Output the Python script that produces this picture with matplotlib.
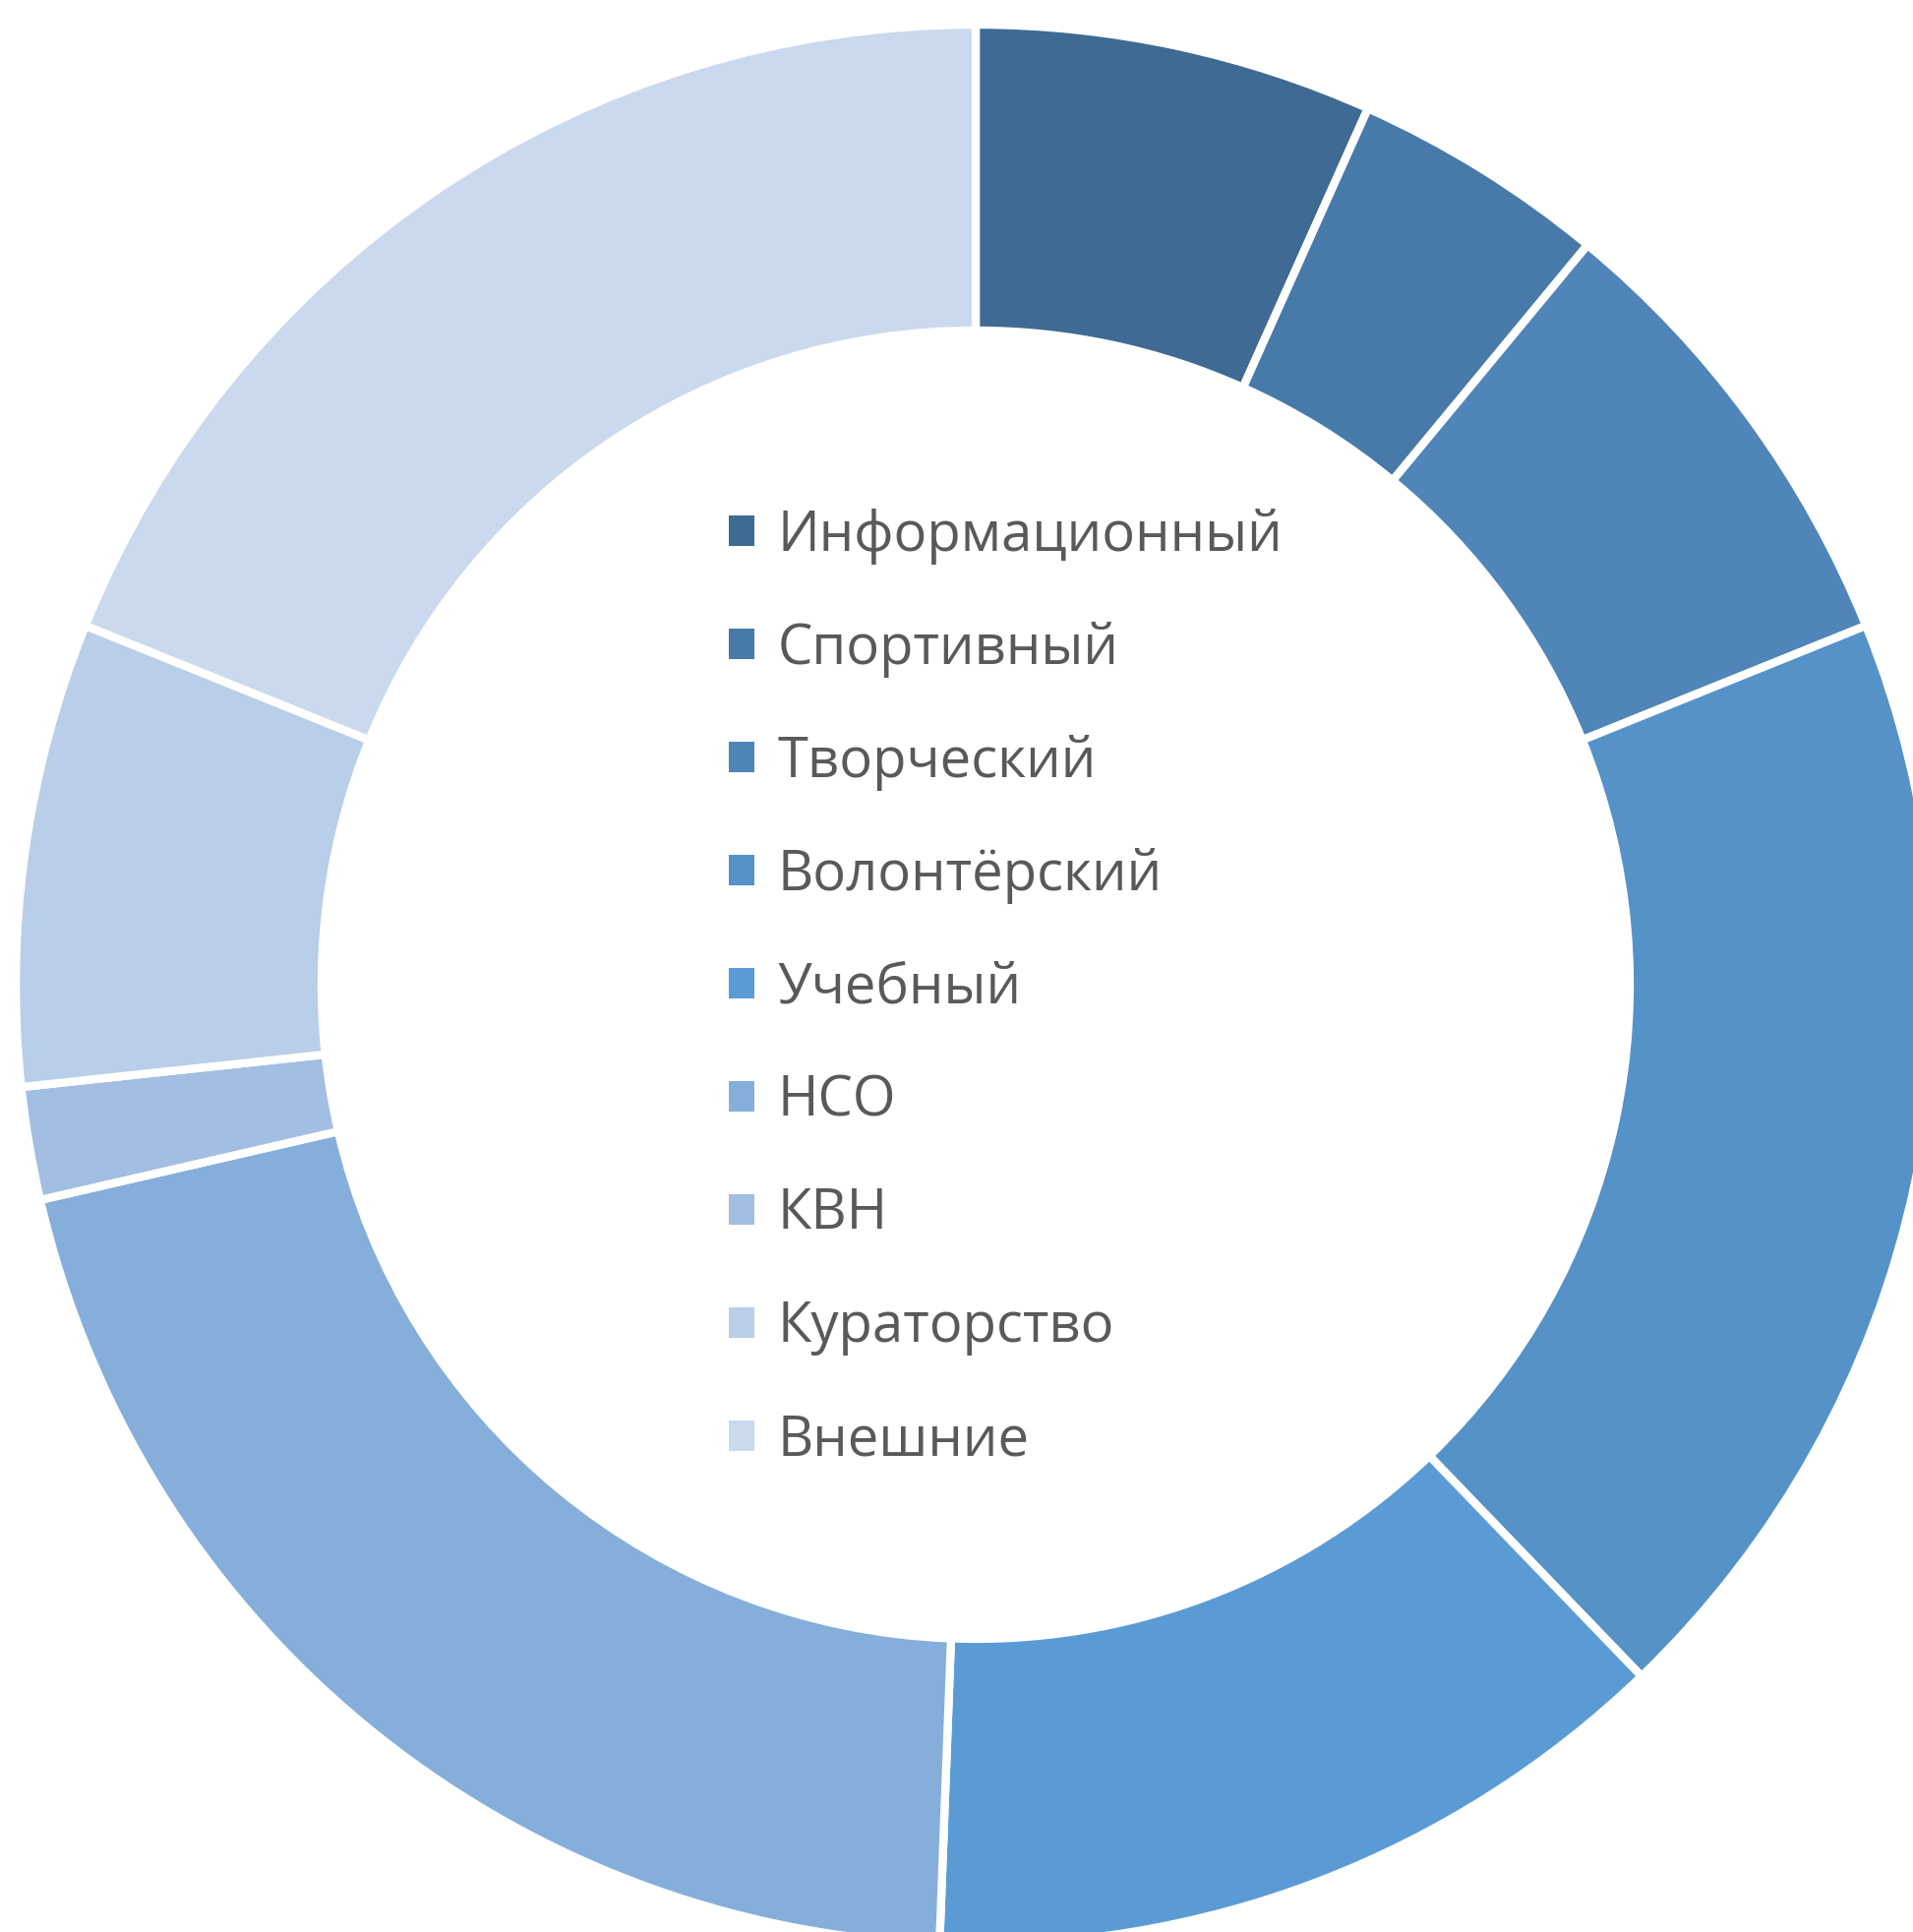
import matplotlib
matplotlib.use("Agg")
import matplotlib.pyplot as plt
import matplotlib.patches as patches

categories = [
    "Информационный",
    "Спортивный",
    "Творческий",
    "Волонтёрский",
    "Учебный",
    "НСО",
    "КВН",
    "Кураторство",
    "Внешние",
]
shares = [6.7, 4.3, 7.9, 18.9, 12.8, 20.8, 1.9, 7.8, 18.9]
colors = [
    "#3E6A94",
    "#477AA8",
    "#4F85B8",
    "#5592C8",
    "#5B9BD5",
    "#85AEDB",
    "#A2BEE2",
    "#B9CEE8",
    "#CAD9ED",
]

W, H = 1945, 1964
fig = plt.figure(figsize=(W / 100, H / 100), dpi=100)
ax = fig.add_axes([0, 0, 1, 1])

# ring is cut off by the right and bottom edges of the picture
cx, cy = 992, H - 1001
outer_r = 976
ring_w = 311

ax.pie(
    shares,
    colors=colors,
    startangle=90,
    counterclock=False,
    radius=outer_r,
    center=(cx, cy),
    wedgeprops=dict(width=ring_w, edgecolor="white", linewidth=6),
)
ax.set_xlim(0, W)
ax.set_ylim(0, H)
ax.set_aspect("equal")
ax.axis("off")

handles = [
    patches.Patch(facecolor=c, edgecolor="none", label=n)
    for c, n in zip(colors, categories)
]
leg = ax.legend(
    handles=handles,
    loc="center left",
    bbox_to_anchor=(741 / W, (H - 1005) / H),
    frameon=False,
    prop={"family": "Open Sans", "size": 40.5},
    handlelength=0.46,
    handleheight=0.46,
    handletextpad=0.42,
    labelspacing=1.03,
    borderpad=0,
    borderaxespad=0,
)
for t in leg.get_texts():
    t.set_color("#595959")

fig.savefig("out.png", dpi=100)
